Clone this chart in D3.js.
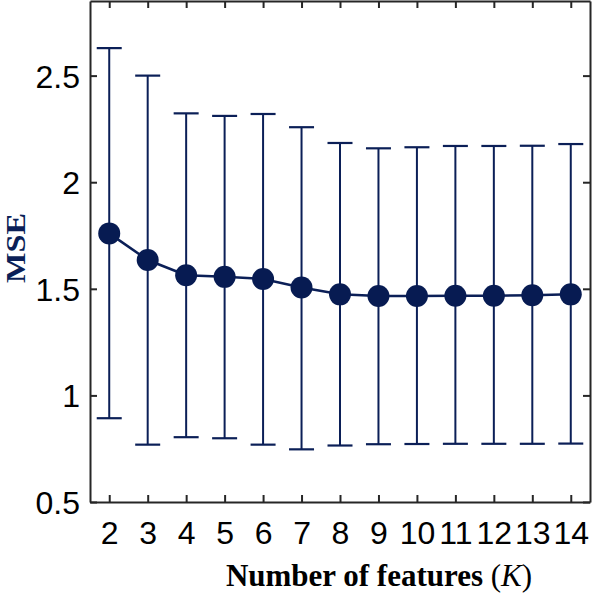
<!DOCTYPE html>
<html>
<head>
<meta charset="utf-8">
<script src="https://cdn.jsdelivr.net/npm/d3@7"></script>
<style>
  body { margin: 0; background: #fff; }
  .tick-label { font-family: "Liberation Sans", Arial, sans-serif; font-size: 32px; fill: #000; }
  .axis-title { font-family: "Liberation Serif", "Times New Roman", serif; font-weight: bold; }
</style>
</head>
<body>
<div id="chart"></div>
<script>
// values
const features = [2, 3, 4, 5, 6, 7, 8, 9, 10, 11, 12, 13, 14];
const mseMean  = [1.76, 1.635, 1.564, 1.556, 1.546, 1.506, 1.474, 1.466, 1.466, 1.467, 1.467, 1.470, 1.474];
const mseUpper = [2.629, 2.50, 2.323, 2.311, 2.320, 2.258, 2.184, 2.159, 2.164, 2.170, 2.170, 2.171, 2.179];
const mseLower = [0.893, 0.769, 0.804, 0.799, 0.769, 0.747, 0.765, 0.771, 0.772, 0.773, 0.773, 0.773, 0.774];
const yTicks = [0.5, 1, 1.5, 2, 2.5];
const yLabels = ["0.5", "1", "1.5", "2", "2.5"];

const data = features.map((k, i) => ({k: k, mean: mseMean[i], hi: mseUpper[i], lo: mseLower[i]}));

const W = 592, H = 593;
const margin = {top: 1, right: 2, bottom: 91, left: 90};
const width = W - margin.left - margin.right;
const height = H - margin.top - margin.bottom;
const navy = "#0b1f57";
const axisColor = "#262626";

const svg = d3.select("#chart").append("svg")
    .attr("width", W)
    .attr("height", H);

const g = svg.append("g")
    .attr("transform", "translate(" + margin.left + "," + margin.top + ")");

const x = d3.scaleLinear().domain([1.5, 14.5]).range([0, width]);
const y = d3.scaleLinear().domain([0.5, 2.85]).range([height, 0]);

// error bars
const capHalf = 12.5;
const bars = g.selectAll(".errbar").data(data).enter().append("g").attr("class", "errbar");
bars.append("line")
    .attr("x1", d => x(d.k)).attr("x2", d => x(d.k))
    .attr("y1", d => y(d.lo)).attr("y2", d => y(d.hi))
    .attr("stroke", navy).attr("stroke-width", 2);
bars.append("line")
    .attr("x1", d => x(d.k) - capHalf).attr("x2", d => x(d.k) + capHalf)
    .attr("y1", d => y(d.hi)).attr("y2", d => y(d.hi))
    .attr("stroke", navy).attr("stroke-width", 2.2);
bars.append("line")
    .attr("x1", d => x(d.k) - capHalf).attr("x2", d => x(d.k) + capHalf)
    .attr("y1", d => y(d.lo)).attr("y2", d => y(d.lo))
    .attr("stroke", navy).attr("stroke-width", 2.2);

// mean line and markers
const line = d3.line().x(d => x(d.k)).y(d => y(d.mean));
g.append("path")
    .datum(data)
    .attr("d", line)
    .attr("fill", "none")
    .attr("stroke", navy)
    .attr("stroke-width", 2.5);

g.selectAll(".pt").data(data).enter().append("circle")
    .attr("class", "pt")
    .attr("cx", d => x(d.k))
    .attr("cy", d => y(d.mean))
    .attr("r", 11)
    .attr("fill", "#071b52");

// axes box with inward ticks on all sides
const tickLen = 7;
const xBottom = d3.axisBottom(x).tickValues(features).tickSizeInner(-tickLen).tickSizeOuter(0).tickFormat(d => d);
const xTop = d3.axisTop(x).tickValues(features).tickSizeInner(-tickLen).tickSizeOuter(0).tickFormat("");
const yLeft = d3.axisLeft(y).tickValues(yTicks).tickSizeInner(-tickLen).tickSizeOuter(0).tickFormat((d, i) => yLabels[i]);
const yRight = d3.axisRight(y).tickValues(yTicks).tickSizeInner(-tickLen).tickSizeOuter(0).tickFormat("");

function styleAxis(sel) {
    sel.select(".domain").attr("stroke", axisColor).attr("stroke-width", 2);
    sel.selectAll(".tick line").attr("stroke", axisColor).attr("stroke-width", 2);
    sel.selectAll(".tick text").attr("class", "tick-label").attr("fill", "#000");
}

g.append("g").attr("transform", "translate(0," + height + ")").call(xBottom).call(styleAxis)
    .selectAll(".tick text").attr("dy", 0).attr("y", 42);
g.append("g").call(xTop).call(styleAxis);
g.append("g").call(yLeft).call(styleAxis)
    .selectAll(".tick text").attr("x", -10).attr("dy", "0.36em");
g.append("g").attr("transform", "translate(" + width + ",0)").call(yRight).call(styleAxis);

// axis titles
const xTitle = svg.append("text")
    .attr("class", "axis-title")
    .attr("x", 379)
    .attr("y", 586)
    .attr("text-anchor", "middle")
    .attr("font-size", 31)
    .attr("fill", "#000");
xTitle.append("tspan").text("Number of features ");
xTitle.append("tspan").attr("font-weight", "normal").text("(");
xTitle.append("tspan").attr("font-weight", "normal").attr("font-style", "italic").text("K");
xTitle.append("tspan").attr("font-weight", "normal").text(")");

svg.append("text")
    .attr("class", "axis-title")
    .attr("transform", "translate(25,248) rotate(-90)")
    .attr("text-anchor", "middle")
    .attr("font-size", 28)
    .attr("textLength", 70)
    .attr("lengthAdjust", "spacingAndGlyphs")
    .attr("fill", navy)
    .text("MSE");
</script>
</body>
</html>
